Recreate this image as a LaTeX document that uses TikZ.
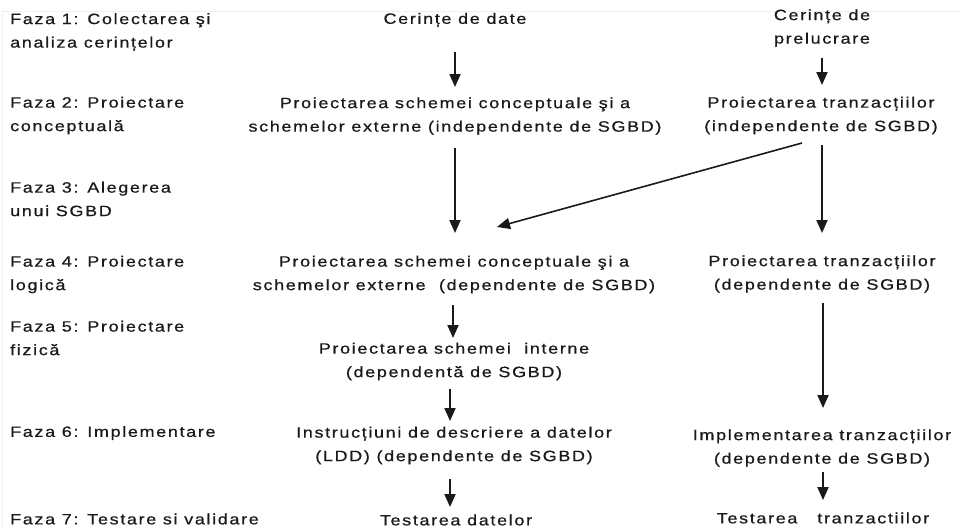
\documentclass[tikz,border=0pt]{standalone}
\usepackage{fontspec}
\setmainfont{Liberation Sans}[FakeStretch=1.2,LetterSpace=11,FakeBold=0.7]
\usetikzlibrary{arrows.meta}
\definecolor{ink}{HTML}{1A1A1A}
\begin{document}
\begin{tikzpicture}[x=1pt,y=-1pt,
  txt/.style={font=\fontsize{15pt}{23.5pt}\selectfont, text=ink, inner sep=0pt, align=center},
  phase/.style={txt, anchor=west, align=left},
  arr/.style={draw=ink, line width=1.9pt, -{Triangle[length=13pt,width=11pt]}},
  slant/.style={arr, line width=1.6pt},
]
\useasboundingbox (0,0) rectangle (960,528);
% faint frame along the top and left edges
\draw[gray!12, line width=0.8pt] (2.5,528) -- (2.5,11.5) -- (960,11.5);

% phase labels
\node[phase] (f1) at (10,32)    {Faza 1: Colectarea şi\\analiza cerințelor};
\node[phase] (f2) at (10,115.5) {Faza 2: Proiectare\\conceptuală};
\node[phase] (f3) at (10,199)   {Faza 3: Alegerea\\unui SGBD};
\node[phase] (f4) at (10,274.5) {Faza 4: Proiectare\\logică};
\node[phase] (f5) at (10,338)   {Faza 5: Proiectare\\fizică};
\node[phase] (f6) at (10,433)   {Faza 6: Implementare};
\node[phase] (f7) at (10,519)   {Faza 7: Testare si validare};

% data column
\node[txt] (c1) at (455,20)    {Cerințe de date};
\node[txt] (c2) at (455,116)   {Proiectarea schemei conceptuale şi a\\schemelor externe (independente de SGBD)};
\node[txt] (c4) at (454,274.5) {Proiectarea schemei conceptuale şi a\\schemelor externe\ \ (dependente de SGBD)};
\node[txt] (c5) at (454,361.5) {Proiectarea schemei\ \ interne\\(dependentă de SGBD)};
\node[txt] (c6) at (454,445.5) {Instrucțiuni de descriere a datelor\\(LDD) (dependente de SGBD)};
\node[txt] (c7) at (456,520)   {Testarea datelor};

% processing column
\node[txt] (r1) at (822,28)    {Cerințe de\\prelucrare};
\node[txt] (r2) at (821,115.5) {Proiectarea tranzacțiilor\\(independente de SGBD)};
\node[txt] (r4) at (822,274)   {Proiectarea tranzacțiilor\\(dependente de SGBD)};
\node[txt] (r6) at (822,448)   {Implementarea tranzacțiilor\\(dependente de SGBD)};
\node[txt] (r7) at (823,518)   {Testarea\ \ \ tranzactiilor};

% data flow
\draw[arr] ([yshift=-32pt]c1.center) -- ([yshift=29pt]c2.center);
\draw[arr] ([yshift=-32pt]c2.center) -- ([xshift=1pt,yshift=41.5pt]c4.center);
\draw[arr] ([xshift=-1pt,yshift=-30.5pt]c4.center) -- ([xshift=-1pt,yshift=23.5pt]c5.center);
\draw[arr] ([xshift=-4pt,yshift=-27.5pt]c5.center) -- ([xshift=-4pt,yshift=24.5pt]c6.center);
\draw[arr] ([xshift=-4pt,yshift=-33.5pt]c6.center) -- ([xshift=-6pt,yshift=13pt]c7.center);

% processing flow
\draw[arr] ([yshift=-30pt]r1.center) -- ([xshift=1pt,yshift=30.5pt]r2.center);
\draw[arr] ([xshift=1pt,yshift=-29.5pt]r2.center) -- ([yshift=41pt]r4.center);
\draw[arr] ([xshift=1pt,yshift=-29pt]r4.center) -- ([xshift=1pt,yshift=40pt]r6.center);
\draw[arr] ([xshift=1pt,yshift=-24pt]r6.center) -- ([yshift=18pt]r7.center);

% transactions feed the logical design
\draw[slant] ([xshift=-19pt,yshift=-27.5pt]r2.center) -- ([xshift=43pt,yshift=47.5pt]c4.center);
\end{tikzpicture}
\end{document}
